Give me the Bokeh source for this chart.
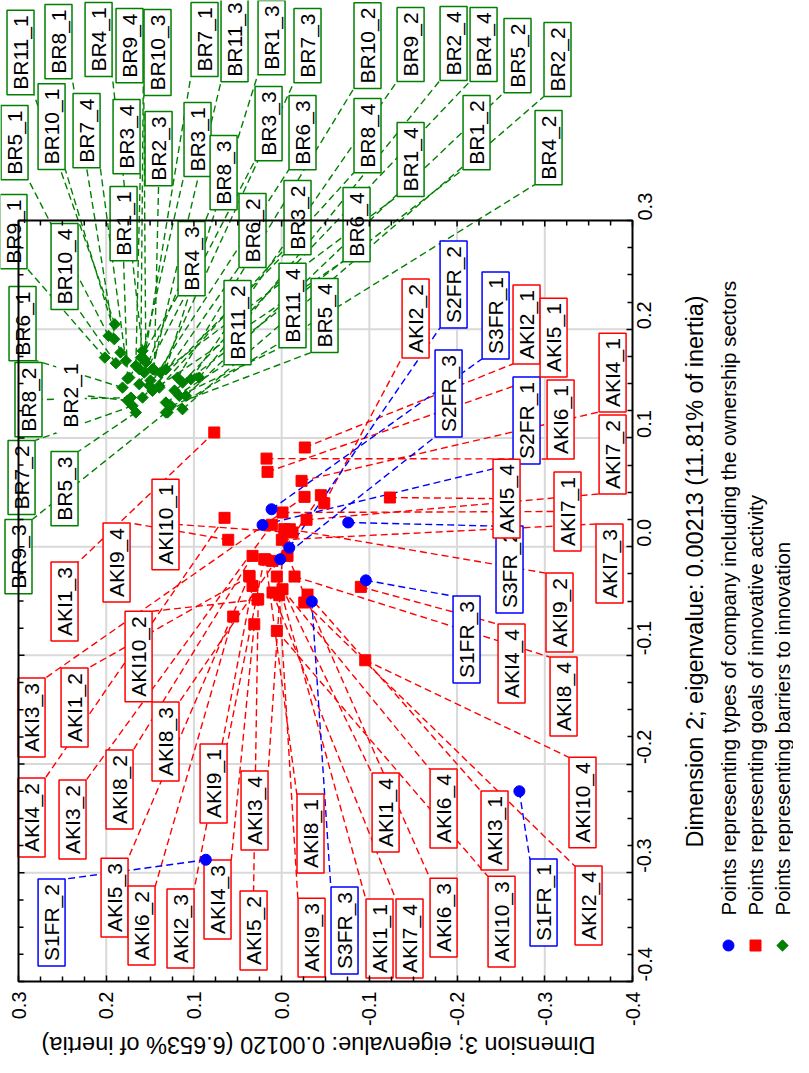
import math
from bokeh.plotting import figure
from bokeh.models import Range1d, FixedTicker, PrintfTickFormatter, ColumnDataSource, LinearAxis
from bokeh.embed import file_html
from bokeh.resources import INLINE
from bokeh.core.properties import value

# ---------------- data ----------------
tick_values = [-0.4, -0.3, -0.2, -0.1, 0.0, 0.1, 0.2, 0.3]

x_title = "Dimension 3; eigenvalue: 0.00120 (6.653% of inertia)"
y_title = "Dimension 2; eigenvalue: 0.00213 (11.81% of inertia)"
legend_texts = [
    "Points representing types of company including the ownership sectors",
    "Points representing goals of innovative activity",
    "Points representing barriers to innovation",
]

# types of company (blue)
sfr_labels = ["S1FR_1", "S1FR_2", "S1FR_3", "S2FR_1", "S2FR_2", "S2FR_3", "S3FR_1", "S3FR_2", "S3FR_3"]
sfr_d3 = [-0.271, 0.0864, -0.096, 0.0218, -0.0087, 0.0016, 0.0115, -0.0759, -0.0344]
sfr_d2 = [-0.225, -0.288, -0.031, 0.020, -0.001, -0.0116, 0.0344, 0.0222, -0.0505]
sfr_lab_d3 = [-0.2986, 0.2623, -0.2108, -0.2792, -0.1960, -0.1903, -0.2439, -0.2598, -0.0717]
sfr_lab_d2 = [-0.3274, -0.3458, -0.0855, 0.1160, 0.2411, 0.1408, 0.2126, -0.0211, -0.3531]

# goals of innovative activity (red)
aki_labels = ["AKI%d_%d" % (g, k) for g in range(1, 11) for k in range(1, 5)]
aki_d3 = [0.0104, 0.0366, 0.0768, 0.0055, -0.0264, -0.0486, 0.0332, -0.0258,
          -0.0295, 0.0112, -0.0261, -0.0030, -0.0227, 0.0651, 0.0312, -0.0903,
          0.0161, 0.0267, 0.0369, -0.1234, 0.0172, 0.0552, -0.0067, -0.0010,
          -0.0010, -0.0284, -0.0002, 0.0104, 0.0184, 0.0332, -0.0447, -0.0147,
          0.0198, -0.0093, 0.0027, 0.0609, -0.0124, 0.0275, 0.0055, -0.0953]
aki_d2 = [-0.0131, -0.0275, 0.1050, -0.0275, 0.0912, 0.0399, -0.0361, -0.0514,
          -0.0441, 0.0201, 0.0458, 0.0160, 0.0605, 0.0265, -0.0714, -0.0370,
          0.0688, -0.0484, -0.0269, 0.0452, 0.0810, -0.0643, -0.0085, -0.0392,
          0.0314, 0.0247, 0.0063, -0.0422, -0.0119, -0.0085, 0.0473, -0.0275,
          -0.0116, 0.0160, -0.0447, 0.0063, 0.0130, -0.0487, -0.0775, -0.1045]
aki_lab_d3 = [-0.1116, 0.2361, 0.2475, -0.1185, -0.2792, -0.1527, 0.1153, -0.3499,
              -0.2427, 0.2384, 0.2851, 0.0309, -0.3773, 0.2851, 0.0731, -0.2621,
              -0.3100, 0.0320, 0.1905, -0.2564, -0.3180, 0.1597, -0.1846, -0.1846,
              -0.3259, -0.3773, -0.3738, -0.1458, -0.0329, 0.1848, 0.1324, -0.3214,
              0.0776, -0.3168, -0.0341, 0.1882, 0.1324, 0.1631, -0.2507, -0.3430]
aki_lab_d2 = [-0.3605, -0.1480, -0.0505, -0.2446, 0.2043, 0.2098, -0.3513, -0.3301,
              -0.2611, -0.2510, -0.1572, -0.2427, 0.1601, -0.2492, -0.3246, -0.1075,
              0.1923, -0.3531, -0.3228, 0.0442, 0.1169, -0.3485, -0.3412, -0.2409,
              0.0323, 0.0847, -0.0155, -0.3605, -0.2639, -0.2234, -0.1793, -0.1379,
              -0.2179, -0.0606, -0.3596, -0.0146, 0.0203, -0.1011, -0.3449, -0.2354]

# barriers to innovation (green)
br_labels = ["BR%d_%d" % (g, k) for g in range(1, 12) for k in range(1, 5)]
br_d3 = [0.1757, 0.1221, 0.1320, 0.1495, 0.1757, 0.1130, 0.1452, 0.0939,
         0.1623, 0.1586, 0.1623, 0.1662, 0.1586, 0.1301, 0.1737, 0.1130,
         0.1973, 0.1092, 0.1662, 0.1263, 0.1814, 0.1472, 0.1509, 0.1395,
         0.1566, 0.1700, 0.1381, 0.1776, 0.1908, 0.1719, 0.1566, 0.1395,
         0.2016, 0.1035, 0.1320, 0.1605, 0.1837, 0.1187, 0.1548, 0.1890,
         0.1902, 0.1320, 0.1472, 0.1167]
br_d2 = [0.1546, 0.1436, 0.1632, 0.1528, 0.1344, 0.1264, 0.1626, 0.1555,
         0.1632, 0.1371, 0.1494, 0.1663, 0.1801, 0.1234, 0.1555, 0.1509,
         0.1939, 0.1387, 0.1234, 0.1295, 0.1463, 0.1433, 0.1479, 0.1479,
         0.1724, 0.1295, 0.1601, 0.1709, 0.1908, 0.1371, 0.1601, 0.1463,
         0.1739, 0.1540, 0.1234, 0.1739, 0.1785, 0.1555, 0.1693, 0.1687,
         0.2046, 0.1326, 0.1632, 0.1387]
br_lab_d3 = [0.1802, -0.2222, 0.0115, -0.1470, 0.2407, -0.3145, 0.1403, -0.1960,
             0.0959, -0.0181, 0.0149, 0.1768, 0.2087, -0.3043, 0.1027, -0.2302,
             0.3045, -0.2689, 0.2475, -0.0489, 0.2954, 0.0332, -0.0238, -0.0854,
             0.0879, 0.2965, -0.0295, 0.2224, 0.2544, 0.2886, 0.0662, -0.0979,
             0.3057, -0.1470, 0.3000, 0.1734, 0.2623, -0.0979, 0.1415, 0.2475,
             0.2977, 0.0503, 0.0537, -0.0124]
br_lab_d2 = [0.2972, 0.3809, 0.4683, 0.3561, 0.1390, 0.4481, 0.3662, 0.4628,
             0.3745, 0.3027, 0.3892, 0.3772, 0.4665, 0.3671, 0.2650, 0.4619,
             0.3717, 0.4517, 0.0534, 0.2126, 0.2052, 0.2908, 0.3809, 0.2963,
             0.4665, 0.0636, 0.4609, 0.3827, 0.4646, 0.1353, 0.3441, 0.3781,
             0.2898, 0.4619, -0.0091, 0.4609, 0.3864, 0.4609, 0.4545, 0.2577,
             0.4545, 0.2061, 0.4665, 0.2218]
unboxed_labels = ["BR2_1"]

# ---------------- styles / layout ----------------
FONT = "Liberation Sans"
LABEL_FS = 21
RED, BLUE, GREEN = "#ff0000", "#0000ff", "#008000"
GRID = "#d9d9d9"
DASH = "7 4"

W, H = 793, 1057                      # canvas = frame
BOX_L, BOX_T, BOX_W, BOX_H = 18, 220, 614, 761   # plot box inside the canvas (px)
LO, HI = tick_values[0], tick_values[-1]
SX = BOX_W / (HI - LO)
SY = BOX_H / (HI - LO)
X_START = HI + BOX_L / SX
X_END = LO - (W - BOX_L - BOX_W) / SX
Y_END = HI + BOX_T / SY
Y_START = LO - (H - BOX_T - BOX_H) / SY

minor_ticks = [m / 1000 for m in range(int(LO * 1000), int(HI * 1000) + 1, 25) if m % 100 != 0]

CHAR_EM = {"A": 0.667, "B": 0.667, "K": 0.667, "I": 0.278, "R": 0.722,
           "S": 0.667, "F": 0.611, "_": 0.556}
PAD_ALONG, PAD_ACROSS = 5, 2
BOX_ACROSS = 1.117 * LABEL_FS + 2 * PAD_ACROSS


def text_px(s):
    return sum(CHAR_EM.get(c, 0.556) for c in s) * LABEL_FS


def attach(px, py, lx, ly, s):
    """Point on the (rotated) label box nearest to the marker: corners / edge middles."""
    L = text_px(s) + 2 * PAD_ALONG
    Wb = BOX_ACROSS
    dx = (lx - px) * SX
    dy = (ly - py) * SY
    best = None
    for cx in (-Wb / 2, 0.0, Wb / 2):
        for cy in (-L / 2, 0.0, L / 2):
            if cx == 0 and cy == 0:
                continue
            d = (cx - dx) ** 2 + (cy - dy) ** 2
            if best is None or d < best[0]:
                best = (d, cx, cy)
    _, cx, cy = best
    return lx - cx / SX, ly - cy / SY


def make_source(names, px, py, lx, ly, color):
    ex, ey = [], []
    for n, a, b, c, d in zip(names, px, py, lx, ly):
        e = attach(a, b, c, d, n)
        ex.append(e[0])
        ey.append(e[1])
    bc = ["white" if n in unboxed_labels else color for n in names]
    return ColumnDataSource(dict(name=names, px=px, py=py, lx=lx, ly=ly, ex=ex, ey=ey, bc=bc))


src_s = make_source(sfr_labels, sfr_d3, sfr_d2, sfr_lab_d3, sfr_lab_d2, BLUE)
src_a = make_source(aki_labels, aki_d3, aki_d2, aki_lab_d3, aki_lab_d2, RED)
src_b = make_source(br_labels, br_d3, br_d2, br_lab_d3, br_lab_d2, GREEN)

p = figure(width=W, height=H, x_range=Range1d(X_START, X_END), y_range=Range1d(Y_START, Y_END),
           x_axis_type=None, y_axis_type=None, toolbar_location=None, output_backend="svg",
           min_border_left=0, min_border_top=0, min_border_right=0, min_border_bottom=0)
p.outline_line_color = None
p.grid.visible = False


def make_axis(standoff):
    ax = LinearAxis(fixed_location=LO)
    ax.ticker = FixedTicker(ticks=tick_values, minor_ticks=minor_ticks)
    ax.formatter = PrintfTickFormatter(format="%.1f")
    ax.axis_line_color = None
    ax.major_tick_in = 6
    ax.major_tick_out = 0
    ax.minor_tick_in = 5
    ax.minor_tick_out = 0
    ax.major_tick_line_color = "black"
    ax.minor_tick_line_color = "black"
    ax.major_tick_line_width = 1.5
    ax.minor_tick_line_width = 1.5
    ax.major_label_text_font = FONT
    ax.major_label_text_font_size = "20px"
    ax.major_label_text_color = "black"
    ax.major_label_orientation = math.pi / 2
    ax.major_label_standoff = standoff
    return ax


# grid lines inside the box
inner = tick_values[1:-1]
p.segment(x0=inner, y0=[LO] * len(inner), x1=inner, y1=[HI] * len(inner), line_color=GRID, line_width=2)
p.segment(x0=[HI] * len(inner), y0=inner, x1=[LO] * len(inner), y1=inner, line_color=GRID, line_width=2)

# dashed connectors
for src, col in ((src_b, GREEN), (src_a, RED), (src_s, BLUE)):
    p.segment(x0="px", y0="py", x1="ex", y1="ey", source=src, line_color=col,
              line_width=1.4, line_dash=DASH)

# label boxes
for src in (src_s, src_a, src_b):
    p.text(x="lx", y="ly", text="name", source=src, angle=math.pi / 2,
           text_align="center", text_baseline="middle",
           text_font=value(FONT), text_font_size=value("%dpx" % LABEL_FS), text_color="black",
           background_fill_color="white", border_line_color="bc", border_line_width=1.5,
           padding=dict(left=PAD_ALONG, right=PAD_ALONG, top=PAD_ACROSS, bottom=PAD_ACROSS))

# markers
p.scatter(x="px", y="py", source=src_b, marker="square", angle=math.pi / 4, size=8,
          fill_color=GREEN, line_color=GREEN)
p.scatter(x="px", y="py", source=src_a, marker="square", size=11, fill_color=RED, line_color=RED)
p.scatter(x="px", y="py", source=src_s, marker="circle", size=11, fill_color=BLUE, line_color=BLUE)

# plot box and its top/left inward ticks
p.quad(left=[HI], right=[LO], bottom=[LO], top=[HI], fill_color=None, line_color="black", line_width=2)
maj_in, min_in = 6 / SY, 5 / SY
p.segment(x0=tick_values, y0=[HI] * 8, x1=tick_values, y1=[HI - maj_in] * 8, line_color="black", line_width=1.5)
p.segment(x0=minor_ticks, y0=[HI] * len(minor_ticks), x1=minor_ticks,
          y1=[HI - min_in] * len(minor_ticks), line_color="black", line_width=1.5)
maj_x, min_x = 6 / SX, 5 / SX
p.segment(x0=[HI] * 8, y0=tick_values, x1=[HI - maj_x] * 8, y1=tick_values, line_color="black", line_width=1.5)
p.segment(x0=[HI] * len(minor_ticks), y0=minor_ticks, x1=[HI - min_x] * len(minor_ticks),
          y1=minor_ticks, line_color="black", line_width=1.5)

# bottom (Dimension 3) and right (Dimension 2) axes, pinned to the box edges
p.add_layout(make_axis(10), "below")
p.add_layout(make_axis(12), "right")

# axis titles
p.text(x=[HI - 300 / SX], y=[LO - 63 / SY], text=[x_title], angle=math.pi,
       text_align="center", text_baseline="middle",
       text_font=value(FONT), text_font_size=value("23.5px"), text_color="black")
p.text(x=[LO - 62 / SX], y=[HI - 351 / SY], text=[y_title], angle=math.pi / 2,
       text_align="center", text_baseline="middle",
       text_font=value(FONT), text_font_size=value("23.5px"), text_color="black")

# legend
leg_dx = [96, 123, 150]
leg_x = [LO - d / SX for d in leg_dx]
leg_marker_y = LO + 36 / SY
leg_text_y = LO + 66 / SY
p.scatter(x=[leg_x[0]], y=[leg_marker_y], marker="circle", size=11, fill_color=BLUE, line_color=BLUE)
p.scatter(x=[leg_x[1]], y=[leg_marker_y], marker="square", size=11, fill_color=RED, line_color=RED)
p.scatter(x=[leg_x[2]], y=[leg_marker_y], marker="square", angle=math.pi / 4, size=8,
          fill_color=GREEN, line_color=GREEN)
p.text(x=leg_x, y=[leg_text_y] * 3, text=legend_texts, angle=math.pi / 2,
       text_align="left", text_baseline="middle",
       text_font=value(FONT), text_font_size=value("20.5px"), text_color="black")

open("out.html", "w").write(file_html(p, INLINE))
